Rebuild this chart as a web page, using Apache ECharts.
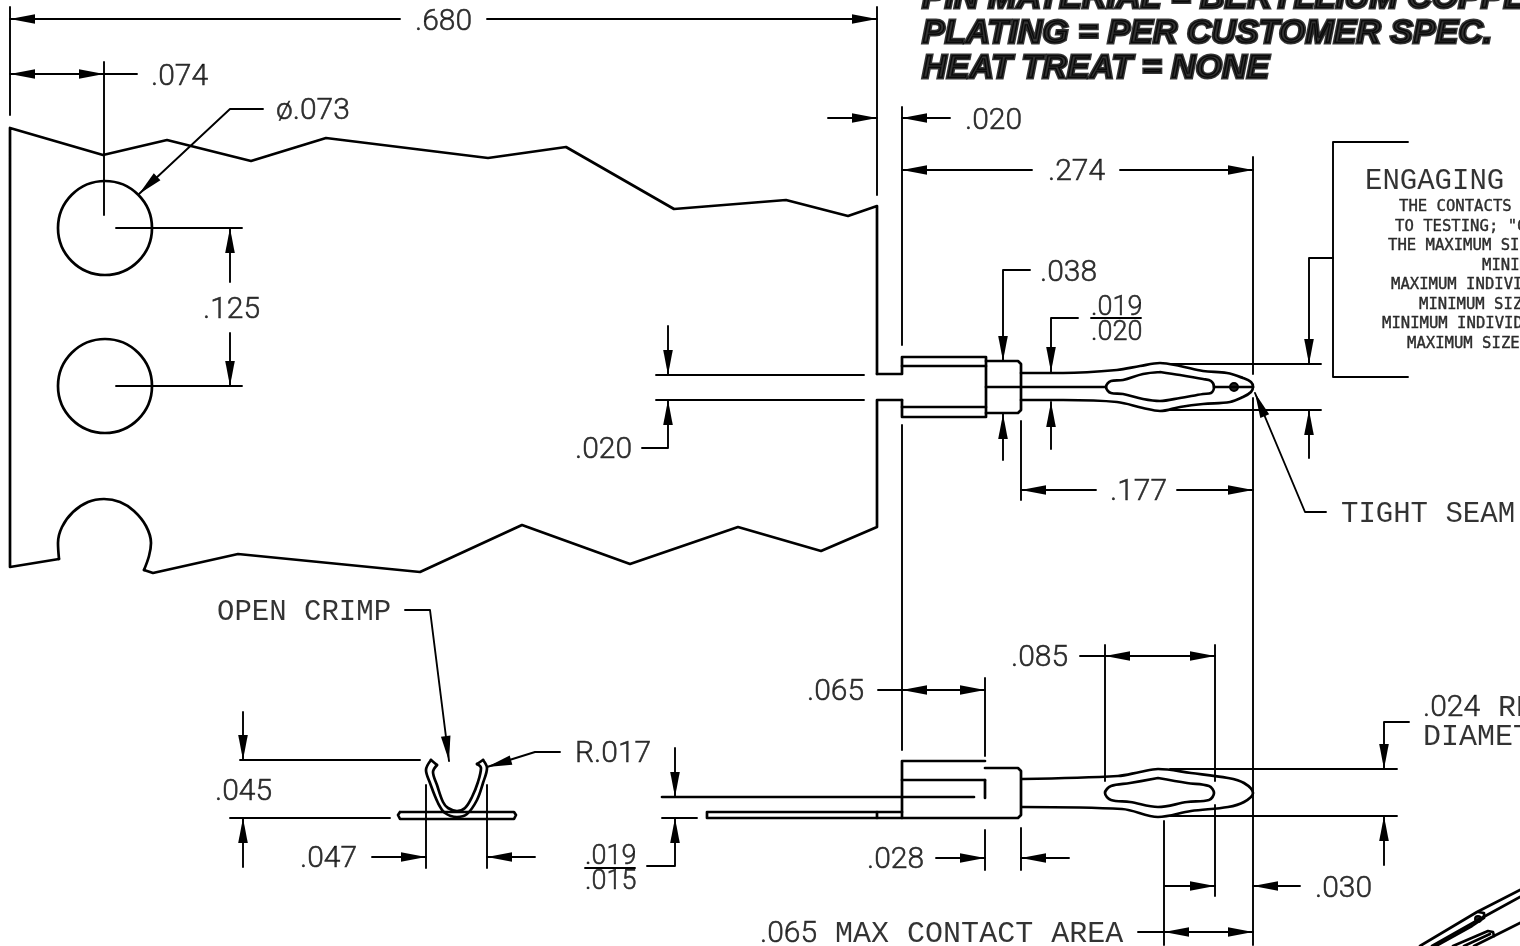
<!DOCTYPE html>
<html><head><meta charset="utf-8">
<style>html,body{margin:0;padding:0;background:#fff;overflow:hidden}#c{width:1520px;height:946px}</style>
<script src="https://cdn.jsdelivr.net/npm/echarts@6/dist/echarts.min.js"></script>
</head><body><div id="c"></div>
<script>
// part geometry (straight polylines)
const stripUpper=[[877,374],[877,206],[848,216],[786,200],[674,209],[566,147],[488,158],[326,138],[251,161],[167,140],[103,155],[10,128],[10,567],[59,559]];
const stripLower=[[144,570],[153,573],[238,554],[420,572],[522,525],[630,564],[738,527],[821,551],[877,527],[877,400],[902,400]];
const topBarrel=[[877,374],[902,374],[902,357],[986,357],[986,417],[902,417],[902,400]];
const topBarrelInner=[[902,366],[986,366]];
const topBarrelInner2=[[902,407],[986,407]];
const topBlock=[[986,361],[1018,361],[1021,364],[1021,410],[1018,413],[986,413]];
const topSeam=[[986,387],[1106,387]];
const topSeam2=[[1214,387],[1253,387]];
const sideBarrel=[[902,818],[902,761],[985,761]];
const sideBarrelInner=[[902,780],[985,780]];
const sideBlock=[[985,768],[1018,768],[1021,771],[1021,815],[1018,818],[707,818],[707,812],[902,812]];
const sideStripTick=[[877,812],[877,818]];
const sideEdge=[[662,797],[974,797]];
const sideStub=[[985,780],[985,798]];
const crimpBase=[[400,812],[514,812],[516,815],[514,819],[400,819],[398,815],[400,812]];
// curved outlines
const notch=[[59,559],[58,543],[62,527],[73,512],[88,502],[104,499],[120,502],[134,511],[146,526],[151,543],[149,556],[144,570]];
const topWire=[[1021,373],[1063,373],[1117,370],[1140,366],[1160,363],[1180,366],[1203,371],[1227,373],[1243,378],[1251,382],[1253,387],[1251,392],[1243,397],[1230,402],[1203,404],[1180,407],[1160,411],[1143,408],[1117,402],[1063,400],[1021,400]];
const topEye=[[1160,372],[1180,375],[1203,379],[1211,381],[1214,387],[1211,393],[1203,394],[1180,398],[1160,401],[1143,399],[1123,394],[1111,393],[1106,387],[1111,381],[1123,380],[1143,374],[1160,372]];
const sideWire=[[1022,779],[1118,776],[1140,772],[1158,769],[1191,773],[1228,778],[1244,783],[1253,793],[1244,802],[1228,807],[1191,811],[1158,817],[1122,809],[1022,807]];
const sideEye=[[1158,778],[1187,783],[1209,786],[1214,793],[1209,800],[1187,802],[1158,807],[1130,802],[1111,800],[1105,793],[1111,786],[1130,783],[1158,778]];
const crimpOuter=[[431,760],[426,770],[430,783],[438,803],[445,813],[457,817],[467,814],[477,800],[483,783],[487,768],[483,760]];
const crimpInner=[[437,765],[433,772],[437,785],[443,802],[448,808],[457,811],[465,808],[472,797],[478,782],[481,768],[477,764]];
const crimpTipL=[[431,760],[437,765]];
const crimpTipR=[[483,760],[477,764]];
// isometric corner sketch
const isoA=[[1420,946],[1477,912],[1520,890]];
const isoB=[[1432,946],[1478,920],[1520,897]];
const isoC=[[1436,946],[1472,926],[1484,918],[1484,913],[1478,912]];
const isoD=[[1453,946],[1488,931],[1493,932],[1494,936],[1474,946]];
const isoE=[[1494,936],[1520,923]];
const isoF=[[1464,946],[1490,934]];
const holes=[[105,228,94],[105,386,94]];
const pinDot=[[1234,387,8]];
const isoDot=[[1478,919,6]];

const partLines=[stripUpper,stripLower,topBarrel,topBarrelInner,topBarrelInner2,topBlock,topSeam,topSeam2,sideBarrel,sideBarrelInner,sideBlock,sideEdge,sideStub,crimpBase,crimpTipL,crimpTipR,isoA,isoB,isoC,isoD,isoE,isoF,sideStripTick];
const partCurves=[notch,topWire,topEye,sideWire,sideEye,crimpOuter,crimpInner];

// dimension, extension and leader lines
const dimLines=[
 [[10,7],[10,115]],[[877,7],[877,195]],[[10,19],[400,19]],[[487,19],[877,19]],
 [[10,74],[137,74]],[[104,62],[104,215]],
 [[263,109],[230,109],[139,194]],
 [[116,228],[242,228]],[[116,386],[242,386]],[[230,228],[230,282]],[[230,386],[230,333]],
 [[828,118],[877,118]],[[902,118],[950,118]],[[902,107],[902,345]],
 [[902,170],[1032,170]],[[1120,170],[1253,170]],[[1253,157],[1253,374]],[[1253,398],[1253,945]],
 [[1030,270],[1003,270],[1003,361]],[[1003,414],[1003,460]],
 [[1078,318],[1051,318],[1051,372]],[[1051,402],[1051,449]],[[1091,318],[1141,318]],
 [[1408,142],[1333,142],[1333,377],[1408,377]],[[1333,258],[1309,258],[1309,364]],
 [[1170,364],[1321,364]],[[1170,410],[1321,410]],[[1309,410],[1309,458]],
 [[1021,421],[1021,500]],[[1021,490],[1096,490]],[[1177,490],[1253,490]],
 [[1255,393],[1305,512],[1326,512]],
 [[656,375],[864,375]],[[656,400],[864,400]],[[668,375],[668,326]],[[668,400],[668,448],[642,448]],
 [[902,425],[902,750]],
 [[240,760],[420,760]],[[230,818],[390,818]],[[243,760],[243,712]],[[243,818],[243,867]],
 [[426,785],[426,868]],[[487,785],[487,868]],[[372,857],[426,857]],[[487,857],[535,857]],
 [[405,610],[430,610],[449,761]],
 [[560,752],[535,752],[487,767]],
 [[585,868],[635,868]],[[647,866],[675,866],[675,818]],[[675,797],[675,748]],[[662,818],[697,818]],
 [[878,690],[985,690]],[[985,678],[985,756]],
 [[985,830],[985,870]],[[1021,828],[1021,870]],[[936,858],[985,858]],[[1021,858],[1069,858]],
 [[1080,656],[1215,656]],[[1105,645],[1105,781]],[[1215,645],[1215,781]],[[1215,805],[1215,896]],
 [[1409,722],[1384,722],[1384,769]],[[1170,769],[1397,769]],[[1170,816],[1397,816]],[[1384,816],[1384,865]],
 [[1165,886],[1215,886]],[[1253,886],[1300,886]],
 [[1138,932],[1253,932]],[[1164,821],[1164,945]]
];
// arrowheads: tip x, tip y, pointing-from x, pointing-from y
const arrows=[
 [10,19,40,19],[877,19,847,19],[10,74,40,74],[104,74,74,74],[139,194,160,174],
 [230,228,230,258],[230,386,230,356],[877,118,847,118],[902,118,932,118],
 [902,170,932,170],[1253,170,1223,170],[1003,361,1003,331],[1003,414,1003,444],
 [1051,372,1051,342],[1051,402,1051,432],[1309,364,1309,334],[1309,410,1309,440],
 [1021,490,1051,490],[1253,490,1223,490],[1255,393,1266,419],
 [668,375,668,345],[668,400,668,430],[243,760,243,730],[243,818,243,848],
 [426,857,396,857],[487,857,517,857],[449,761,445,731],[487,767,515,759],
 [675,818,675,848],[675,797,675,767],[902,690,932,690],[985,690,955,690],
 [985,858,955,858],[1021,858,1051,858],[1105,656,1135,656],[1215,656,1185,656],
 [1384,769,1384,739],[1384,816,1384,846],[1215,886,1185,886],[1253,886,1283,886],
 [1164,932,1194,932],[1253,932,1223,932]
];
// text
const dimText=['.680','.074','\u00f8.073','.125','.020','.274','.038','.177','.020','.045','.047','R.017','.065','.028','.085','.030'];
const dimTextAt=[[415,20],[151,75],[276,109],[203,308],[965,119],[1048,170],[1040,271],[1110,490],[575,448],[215,790],[300,857],[575,752],[807,690],[867,858],[1011,656],[1315,887]];
const fractionText=['.019','.020','.019','.015'];
const fractionTextAt=[[1091,306],[1091,331],[585,855],[585,880]];
const wordText=['.024 REF','DIAMETER','.065 MAX CONTACT AREA'];
const wordTextAt=[[1423,706],[1423,735],[760,932]];
const shortWordText=['TIGHT SEAM','OPEN CRIMP','ENGAGING'];
const shortWordTextAt=[[1341,512],[217,610],[1365,179]];
const noteText=['THE CONTACTS SHALL','TO TESTING; "C','THE MAXIMUM SIZE','MINIMUM','MAXIMUM INDIVIDUAL','MINIMUM SIZE','MINIMUM INDIVIDUAL','MAXIMUM SIZE'];
const noteTextAt=[[1399,205],[1395,225],[1388,244],[1482,264],[1391,283],[1419,303],[1382,322],[1407,342]];
const titleText=['PIN MATERIAL = BERYLLIUM COPPER','PLATING = PER CUSTOMER SPEC.','HEAT TREAT = NONE'];
const titleTextAt=[[922,14],[922,49],[922,84]];

const INK='#000';
const series=[];
const lineSeries=(pts,w,smooth)=>({type:'line',data:pts,symbol:'none',smooth:smooth?0.35:false,silent:true,animation:false,clip:false,
  lineStyle:{color:INK,width:w,cap:'round',join:'round'}});
partLines.forEach(p=>series.push(lineSeries(p,2.7,false)));
partCurves.forEach(p=>series.push(lineSeries(p,2.7,true)));
dimLines.forEach(p=>series.push(lineSeries(p,1.9,false)));
series.push({type:'scatter',data:holes,symbol:'circle',symbolSize:v=>v[2],silent:true,animation:false,
  itemStyle:{color:'rgba(0,0,0,0)',borderColor:INK,borderWidth:2.7,opacity:1}});
series.push({type:'scatter',data:pinDot.concat(isoDot),symbol:'circle',symbolSize:v=>v[2],silent:true,animation:false,
  itemStyle:{color:'#222',borderColor:INK,borderWidth:2,opacity:1}});
series.push({type:'custom',data:arrows,silent:true,animation:false,clip:false,
  encode:{x:[0,2],y:[1,3]},
  renderItem:(p,api)=>{
    const t=api.coord([api.value(0),api.value(1)]),f=api.coord([api.value(2),api.value(3)]);
    const dx=f[0]-t[0],dy=f[1]-t[1],L=Math.hypot(dx,dy),ux=dx/L,uy=dy/L,len=25,hw=4.8;
    const bx=t[0]+ux*len,by=t[1]+uy*len;
    return {type:'polygon',shape:{points:[t,[bx-uy*hw,by+ux*hw],[bx+uy*hw,by-ux*hw]]},style:{fill:INK}};
  }});
const textSeries=(labels,at,label)=>({type:'scatter',symbolSize:0,silent:true,animation:false,clip:false,
  data:at.map((p,i)=>({value:p,name:labels[i]})),
  label:Object.assign({show:true,position:'right',distance:0,offset:[0,2],formatter:d=>d.name,color:INK},label)});
series.push(textSeries(dimText,dimTextAt,{fontFamily:'Roboto',fontWeight:300,fontSize:30,textBorderColor:INK,textBorderWidth:0.5}));
series.push(textSeries(fractionText,fractionTextAt,{fontFamily:'Roboto',fontWeight:300,fontSize:27,textBorderColor:INK,textBorderWidth:0.5}));
series.push(textSeries(wordText,wordTextAt,{fontFamily:'Liberation Mono',fontSize:30,
  formatter:d=>d.name.replace(/^(\.\d+) /,'{n|$1} '),
  rich:{n:{fontFamily:'Roboto',fontWeight:300,fontSize:30,textBorderColor:INK,textBorderWidth:0.5}}}));
series.push(textSeries(shortWordText,shortWordTextAt,{fontFamily:'Liberation Mono',fontSize:29}));
series.push(textSeries(noteText,noteTextAt,{fontFamily:'DejaVu Sans Mono',fontSize:15.6,textBorderColor:INK,textBorderWidth:0.4}));
series.push(textSeries(titleText,titleTextAt,{fontFamily:'Liberation Sans',fontWeight:'bold',fontStyle:'italic',fontSize:34,textBorderColor:INK,textBorderWidth:3,verticalAlign:'bottom',lineHeight:34}));

const chart=echarts.init(document.getElementById('c'),null,{renderer:'canvas'});
chart.setOption({
  animation:false,backgroundColor:'#fff',
  grid:{left:0,top:0,width:1520,height:946},
  xAxis:{type:'value',min:0,max:1520,show:false},
  yAxis:{type:'value',min:0,max:946,inverse:true,show:false},
  tooltip:{show:false},legend:{show:false},
  series
});
</script></body></html>
